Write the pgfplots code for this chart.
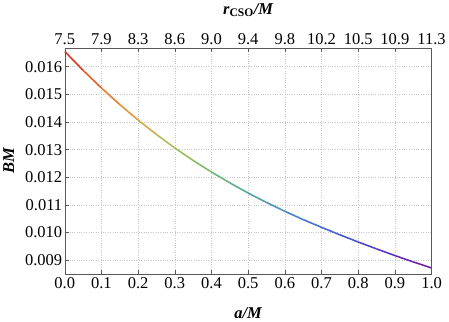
\documentclass[border=0pt]{standalone}
\usepackage{fontspec}
\setmainfont{Liberation Serif}
\usepackage{pgfplots}
\pgfplotsset{compat=1.18}
\definecolor{axgray}{gray}{0.35}
\begin{document}
\begin{tikzpicture}
\pgfplotsset{
  colormap={rb}{
    rgb=(0.86,0.13,0.13)
    rgb=(0.92,0.45,0.20)
    rgb=(0.87,0.65,0.25)
    rgb=(0.65,0.75,0.35)
    rgb=(0.45,0.73,0.45)
    rgb=(0.33,0.66,0.60)
    rgb=(0.28,0.55,0.78)
    rgb=(0.27,0.42,0.85)
    rgb=(0.30,0.30,0.82)
    rgb=(0.38,0.20,0.72)
    rgb=(0.47,0.11,0.60)
  },
  common/.style={
    scale only axis, width=367bp, height=226bp,
    xmin=0, xmax=1, ymin=0.0085, ymax=0.01667,
    scaled x ticks=false, scaled y ticks=false,
    tick align=inside, major tick length=4bp,
    /pgf/number format/assume math mode=true,
    tick label style={font=\fontsize{16.5bp}{19bp}\selectfont},
    label style={font=\fontsize{16.5bp}{19bp}\selectfont\bfseries\itshape},
    every tick/.style={axgray, thin},
  }
}
\begin{axis}[common,
  axis line style={axgray, thin},
  xtick={0,0.1,...,1.0},
  xticklabels={0.0,0.1,0.2,0.3,0.4,0.5,0.6,0.7,0.8,0.9,1.0},
  ytick={0.009,0.010,0.011,0.012,0.013,0.014,0.015,0.016},
  yticklabels={0.009,0.010,0.011,0.012,0.013,0.014,0.015,0.016},
  xtick pos=lower, ytick pos=left,
  yticklabel style={xshift=1bp},
  xmajorgrids, ymajorgrids,
  major grid style={dotted, gray!45, thin},
  xlabel={a/M},
  ylabel={BM},
  xlabel style={at={(axis description cs:0.5,0)}, anchor=base, yshift=-44bp},
  ylabel style={at={(axis description cs:-0.1526,0.5)}, anchor=center},
  point meta min=0, point meta max=1,
]
\addplot[mesh, colormap name=rb, point meta=x, line width=1.6bp] table {
0.00 0.01655
0.05 0.01587
0.10 0.01523
0.15 0.01463
0.20 0.01407
0.25 0.01355
0.30 0.01306
0.35 0.01261
0.40 0.01219
0.45 0.01180
0.50 0.01143
0.55 0.01109
0.60 0.01077
0.65 0.01047
0.70 0.01019
0.75 0.00992
0.80 0.00966
0.85 0.00941
0.90 0.00917
0.95 0.00894
1.00 0.00872
};
\end{axis}
\begin{axis}[common,
  axis x line*=top, axis y line=none,
  x axis line style={draw=none},
  xtick={0,0.1,...,1.0},
  xticklabels={7.5,7.9,8.3,8.6,9.0,9.4,9.8,10.2,10.5,10.9,11.3},
  xlabel={r\textsubscript{\upshape CSO}/M},
  xlabel style={at={(axis description cs:0.5,1)}, anchor=base, yshift=34bp},
]
\end{axis}
\end{tikzpicture}
\end{document}
